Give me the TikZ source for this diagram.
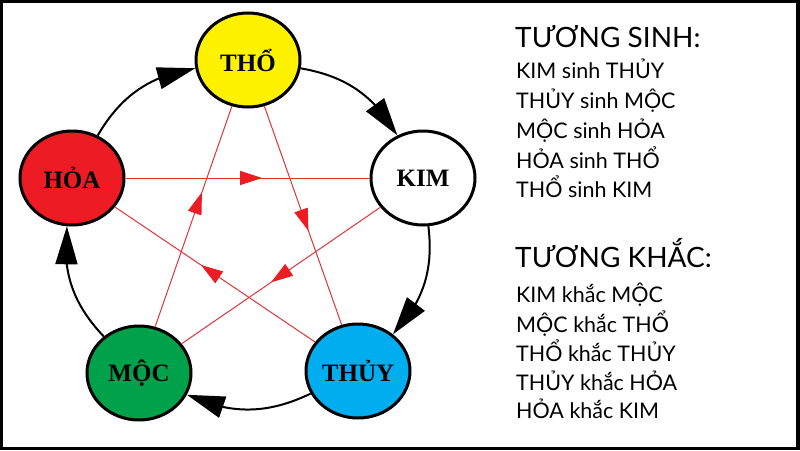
\documentclass[tikz,border=0pt]{standalone}
\usepackage{fontspec}
\setmainfont{Liberation Serif}
\newfontfamily\txtfont{Lato}
\usetikzlibrary{arrows.meta,bending,shapes.geometric,decorations.markings}
\definecolor{cTho}{RGB}{255,242,0}
\definecolor{cHoa}{RGB}{237,28,36}
\definecolor{cMoc}{RGB}{0,161,75}
\definecolor{cThuy}{RGB}{0,174,239}
\definecolor{cLine}{RGB}{222,52,60}
\definecolor{cArrow}{RGB}{237,28,36}
\begin{document}
\begin{tikzpicture}[x=1pt,y=-1pt,
  elem/.style={ellipse,draw=black,line width=3pt,minimum width=104pt,minimum height=94pt,inner sep=0pt,font=\fontsize{25}{25}\selectfont\bfseries},
  sinh/.style={line width=2pt,-{Triangle[length=38pt,width=22pt]}},
  khac/.style={draw=cLine,line width=1pt,postaction={decorate},decoration={markings,mark=at position #1 with {\arrow{Triangle[length=22pt,width=14pt,color=cArrow]}}}},
  khac/.default=0.57,
  ttl/.style={anchor=base west,inner sep=0pt,font=\txtfont\fontsize{28}{28}\selectfont},
  itm/.style={anchor=base west,inner sep=0pt,font=\txtfont\fontsize{21.5}{21.5}\selectfont}
]
\fill[black] (0,0) rectangle (800,450);
\fill[white] (3,3) rectangle (796,447);
\useasboundingbox (0,0) rectangle (800,450);

\node[elem,fill=cTho] (tho) at (248,60) {THỔ};
\node[elem,fill=cHoa] (hoa) at (72,178) {HỎA};
\node[elem,fill=white] (kim) at (423,178) {KIM};
\node[elem,fill=cMoc] (moc) at (139,373) {MỘC};
\node[elem,fill=cThuy] (thuy) at (358,371) {THỦY};

\draw[sinh] (hoa) to[bend left=25] (tho);
\draw[sinh] (tho) to[bend left=25] (kim);
\draw[sinh] (kim) to[bend left=25] (thuy);
\draw[sinh] (thuy) to[bend left=25] (moc);
\draw[sinh] (moc) to[bend left=25] (hoa);

\draw[khac=0.56] (hoa) -- (kim);
\draw[khac=0.55] (kim) -- (moc);
\draw[khac=0.61] (moc) -- (tho);
\draw[khac=0.57] (tho) -- (thuy);
\draw[khac=0.57] (thuy) -- (hoa);

\node[ttl] (t1) at (515,47) {TƯƠNG SINH:};
\node[itm] (a1) at (516,78) {KIM sinh THỦY};
\node[itm] (a2) at (516,108) {THỦY sinh MỘC};
\node[itm] (a3) at (516,138) {MỘC sinh HỎA};
\node[itm] (a4) at (516,168) {HỎA sinh THỔ};
\node[itm] (a5) at (516,197) {THỔ sinh KIM};

\node[ttl] (t2) at (515,267) {TƯƠNG KHẮC:};
\node[itm] (b1) at (516,302) {KIM khắc MỘC};
\node[itm] (b2) at (516,332) {MỘC khắc THỔ};
\node[itm] (b3) at (516,361) {THỔ khắc THỦY};
\node[itm] (b4) at (516,390) {THỦY khắc HỎA};
\node[itm] (b5) at (516,418) {HỎA khắc KIM};
\end{tikzpicture}
\end{document}
